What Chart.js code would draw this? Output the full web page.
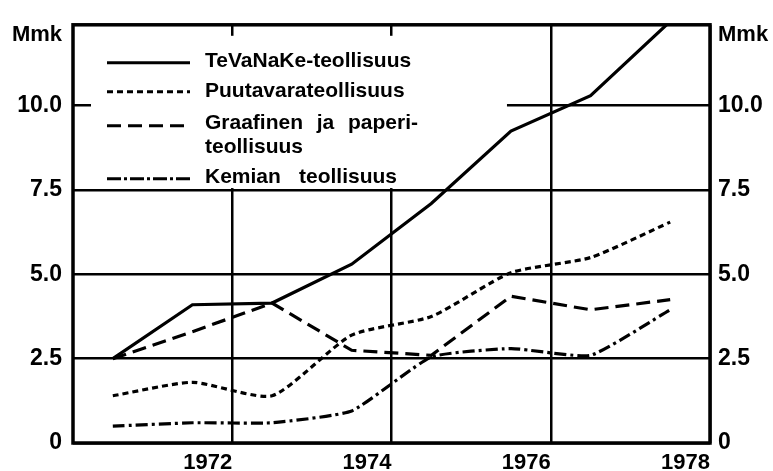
<!DOCTYPE html>
<html>
<head>
<meta charset="utf-8">
<title>Teollisuuden investoinnit, Mmk</title>
<script src="https://cdn.jsdelivr.net/npm/chart.js@4.4.0/dist/chart.umd.min.js"></script>
<style>
  html, body { margin: 0; padding: 0; background: #fff; }
  #wrap { width: 773px; height: 471px; }
</style>
</head>
<body>
<div id="wrap"><canvas id="mmkChart"></canvas></div>
<script>
// Vuosiarvot, piirretään vuoden puoliväliin
const years = [1970, 1971, 1972, 1973, 1974, 1975, 1976, 1977];
const tevanake = [2.5, 4.1, 4.15, 5.3, 7.1, 9.25, 10.3, 12.5];
const puutavara = [1.4, 1.8, 1.4, 3.2, 3.75, 5.05, 5.5, 6.55];
const graafinen = [2.5, 3.3, 4.15, 2.75, 2.6, 4.35, 3.95, 4.25];
const kemia = [0.5, 0.6, 0.6, 0.95, 2.55, 2.8, 2.6, 3.95];

// Akselien jaot
const yearTicks = [1972, 1974, 1976, 1978];
const mmkTicks = [0, 2.5, 5, 7.5, 10];
const mmkLabels = ['0', '2.5', '5.0', '7.5', '10.0'];

const FONT = '"Liberation Sans", Arial, Helvetica, sans-serif';
const points = vals => vals.map((v, i) => ({ x: years[i] + 0.5, y: v }));

// Selite: viivan tyyli ja tekstirivit (width = tasattu rivi)
const legendItems = [
    { dash: [], lines: [{ text: 'TeVaNaKe-teollisuus' }] },
    { dash: [6, 4], lines: [{ text: 'Puutavarateollisuus' }] },
    { dash: [14, 7], lines: [{ text: 'Graafinen ja paperi-', width: 213 }, { text: 'teollisuus' }] },
    { dash: [14, 3, 3, 3], lines: [{ text: 'Kemian teollisuus', width: 192 }] }
];

function drawJustified(ctx, text, x, y, width) {
    const words = text.split(' ');
    if (!width || words.length < 2) { ctx.fillText(text, x, y); return; }
    const used = words.reduce((s, w) => s + ctx.measureText(w).width, 0);
    const gap = (width - used) / (words.length - 1);
    let cx = x;
    words.forEach(w => { ctx.fillText(w, cx, y); cx += ctx.measureText(w).width + gap; });
}

const frameAndLegend = {
    id: 'frameAndLegend',
    beforeDatasetsDraw(chart) {
        const { ctx, chartArea: a, scales } = chart;
        const y75 = scales.y.getPixelForValue(7.5);
        const xRight = scales.x.getPixelForValue(1975.45);
        ctx.save();
        // selitealue peittää ruudukon
        ctx.fillStyle = '#fff';
        ctx.fillRect(a.left + 18, a.top + 11, xRight - a.left - 18, y75 - 2 - a.top - 11);

        ctx.fillStyle = '#000';
        ctx.strokeStyle = '#000';
        ctx.lineWidth = 3;
        ctx.font = 'bold 21px ' + FONT;
        ctx.textBaseline = 'alphabetic';
        const sampleY = [38, 67, 101, 154];
        const baseY = [[42], [72], [104, 128], [158]];
        legendItems.forEach((item, i) => {
            ctx.setLineDash(item.dash);
            ctx.beginPath();
            ctx.moveTo(a.left + 34, a.top + sampleY[i]);
            ctx.lineTo(a.left + 117, a.top + sampleY[i]);
            ctx.stroke();
            item.lines.forEach((ln, j) => drawJustified(ctx, ln.text, a.left + 132, a.top + baseY[i][j], ln.width));
        });
        ctx.restore();
    },
    afterDatasetsDraw(chart) {
        const { ctx, chartArea: a } = chart;
        ctx.save();
        ctx.strokeStyle = '#000';
        ctx.lineWidth = 3.5;
        ctx.strokeRect(a.left, a.top, a.right - a.left, a.bottom - a.top);
        ctx.fillStyle = '#000';
        ctx.font = 'bold 22px ' + FONT;
        ctx.textBaseline = 'alphabetic';
        ctx.textAlign = 'right';
        ctx.fillText('Mmk', a.left - 11, a.top + 16);
        ctx.textAlign = 'left';
        ctx.fillText('Mmk', a.right + 8, a.top + 16);
        ctx.restore();
    }
};

const lineSet = (label, vals, dash, tension) => ({
    label: label,
    data: points(vals),
    borderColor: '#000',
    borderWidth: 3.2,
    borderDash: dash,
    pointRadius: 0,
    tension: tension,
    fill: false
});

const mmkAxis = (position) => ({
    type: 'linear',
    position: position,
    min: 0,
    max: 12.4,
    afterBuildTicks: s => { s.ticks = mmkTicks.map(v => ({ value: v })); },
    afterFit: s => { s.width = position === 'left' ? 73 : 63; },
    border: { display: false },
    grid: {
        display: position === 'left',
        color: '#000',
        lineWidth: 2.5,
        drawTicks: false
    },
    ticks: {
        color: '#000',
        padding: position === 'left' ? 11 : 8,
        font: { family: FONT, size: 23, weight: 'bold' },
        callback: v => mmkLabels[mmkTicks.indexOf(v)]
    }
});

const ctx = document.getElementById('mmkChart').getContext('2d');
const mmkChart = new Chart(ctx, {
    type: 'line',
    data: {
        datasets: [
            lineSet('TeVaNaKe-teollisuus', tevanake, [], 0),
            lineSet('Puutavarateollisuus', puutavara, [6, 4], 0.2),
            lineSet('Graafinen ja paperiteollisuus', graafinen, [14, 7], 0),
            lineSet('Kemian teollisuus', kemia, [12, 4, 3, 4], 0.15)
        ]
    },
    options: {
        responsive: true,
        maintainAspectRatio: false,
        animation: false,
        layout: { padding: { top: 14, left: 0, right: 0, bottom: 0 } },
        plugins: {
            legend: { display: false },
            tooltip: { enabled: false }
        },
        scales: {
            x: {
                type: 'linear',
                min: 1970,
                max: 1978,
                afterBuildTicks: s => { s.ticks = yearTicks.map(v => ({ value: v })); },
                afterFit: s => { s.height = 28; },
                border: { display: false },
                grid: {
                    color: '#000',
                    lineWidth: 2.5,
                    drawTicks: false
                },
                ticks: {
                    color: '#000',
                    align: 'end',
                    maxRotation: 0,
                    autoSkip: false,
                    padding: 7,
                    font: { family: FONT, size: 22, weight: 'bold' },
                    callback: v => String(v)
                }
            },
            y: mmkAxis('left'),
            y2: mmkAxis('right')
        }
    },
    plugins: [frameAndLegend]
});
</script>
</body>
</html>
